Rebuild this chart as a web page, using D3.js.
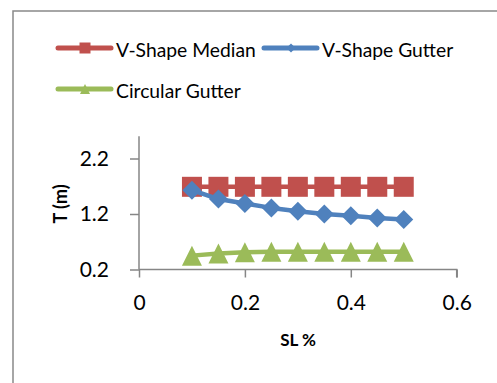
<!DOCTYPE html>
<html>
<head>
<meta charset="utf-8">
<script src="https://cdn.jsdelivr.net/npm/d3@7"></script>
<style>
  html, body { margin: 0; padding: 0; background: #fff; }
  svg { display: block; }
  text { font-family: Lato, "Open Sans", sans-serif; fill: #000; }
</style>
</head>
<body>
<svg id="chart" width="497" height="383"></svg>
<script>
// Slope (SL %) on the x axis, T (m) on the y axis
const slopes = [0.1, 0.15, 0.2, 0.25, 0.3, 0.35, 0.4, 0.45, 0.5];
const vShapeMedian = [1.69, 1.69, 1.69, 1.69, 1.69, 1.69, 1.69, 1.69, 1.69];
const vShapeGutter = [1.63, 1.47, 1.39, 1.31, 1.25, 1.20, 1.17, 1.13, 1.10];
const circularGutter = [0.45, 0.49, 0.51, 0.52, 0.52, 0.52, 0.52, 0.52, 0.52];
const seriesNames = ["V-Shape Median", "V-Shape Gutter", "Circular Gutter"];
const xTicks = [0, 0.2, 0.4, 0.6];
const yTicks = [0.2, 1.2, 2.2];

const colors = ["#C0504D", "#4F81BD", "#9BBB59"];

// marker outlines, r = half the marker width
const markerPath = [
  r => `M${-r},${-r}H${r}V${r}H${-r}Z`,            // square
  r => `M0,${-r}L${r},0L0,${r}L${-r},0Z`,           // diamond
  r => `M0,${-r}L${r},${r}L${-r},${r}Z`             // triangle
];

const svg = d3.select("#chart");

// chart frame
svg.append("rect")
  .attr("x", 13).attr("y", 11)
  .attr("width", 520).attr("height", 400)
  .attr("fill", "none").attr("stroke", "#898989").attr("stroke-width", 1.5);

const x = d3.scaleLinear().domain([0, 0.6]).range([139, 456.7]);
const y = d3.scaleLinear().domain([0.2, 2.6]).range([269.5, 136.3]);

const axisColor = "#868686";

// y axis
const yAxis = svg.append("g")
  .attr("transform", `translate(${x(0)},0)`)
  .call(d3.axisLeft(y).tickValues(yTicks).tickFormat(d3.format(".1f")).tickSize(9).tickPadding(21));
// x axis
const xAxis = svg.append("g")
  .attr("transform", `translate(0,${y(0.2)})`)
  .call(d3.axisBottom(x).tickValues(xTicks).tickFormat(d => d === 0 ? "0" : d3.format(".1f")(d)).tickSize(8).tickPadding(18));

[yAxis, xAxis].forEach(g => {
  g.select(".domain").attr("stroke", axisColor).attr("stroke-width", 1.5);
  g.selectAll(".tick line").attr("stroke", axisColor).attr("stroke-width", 1.5);
  g.selectAll(".tick text").attr("font-size", 21).attr("font-family", "Lato, sans-serif").attr("fill", "#000");
});
// y axis line runs to the top of the value range, without end caps
yAxis.select(".domain").attr("d", `M0,${y(0.2)}V${y(2.6)}`);
xAxis.select(".domain").attr("d", `M${x(0)},0H${x(0.6)}V8`);

// axis titles
svg.append("text")
  .attr("transform", `translate(62,${(y(0.2) + y(2.2)) / 2 - 10}) rotate(-90)`)
  .attr("text-anchor", "middle").attr("dominant-baseline", "middle")
  .attr("font-size", 18).attr("font-weight", "bold")
  .text("T (m)");
svg.append("text")
  .attr("x", 298).attr("y", 342)
  .attr("text-anchor", "middle").attr("dominant-baseline", "middle")
  .attr("font-size", 17).attr("font-weight", "bold")
  .text("SL %");

// series
const allSeries = [vShapeMedian, vShapeGutter, circularGutter];
const markerR = [10, 9.5, 10];
const line = d3.line().x((d, i) => x(slopes[i])).y(d => y(d));

allSeries.forEach((vals, k) => {
  const g = svg.append("g");
  g.append("path")
    .attr("d", line(vals))
    .attr("fill", "none").attr("stroke", colors[k]).attr("stroke-width", 4.5)
    .attr("stroke-linejoin", "round");
  g.selectAll("path.m").data(vals).join("path")
    .attr("class", "m")
    .attr("transform", (d, i) => `translate(${x(slopes[i])},${y(d)})`)
    .attr("d", markerPath[k](markerR[k]))
    .attr("fill", colors[k]);
});

// legend
const legendItems = [
  { x: 58, y: 48 },
  { x: 264, y: 48 },
  { x: 58, y: 89 }
];
const legendR = [5.5, 4.5, 5];
legendItems.forEach((p, k) => {
  const g = svg.append("g").attr("transform", `translate(${p.x},${p.y})`);
  g.append("line")
    .attr("x1", 0).attr("x2", 53).attr("y1", 0).attr("y2", 0)
    .attr("stroke", colors[k]).attr("stroke-width", 5).attr("stroke-linecap", "round");
  g.append("path")
    .attr("transform", "translate(27,0)")
    .attr("d", markerPath[k](legendR[k]))
    .attr("fill", colors[k]);
  g.append("text")
    .attr("x", 58).attr("y", 1)
    .attr("dominant-baseline", "central")
    .attr("font-size", 19.3)
    .text(seriesNames[k]);
});
</script>
</body>
</html>
